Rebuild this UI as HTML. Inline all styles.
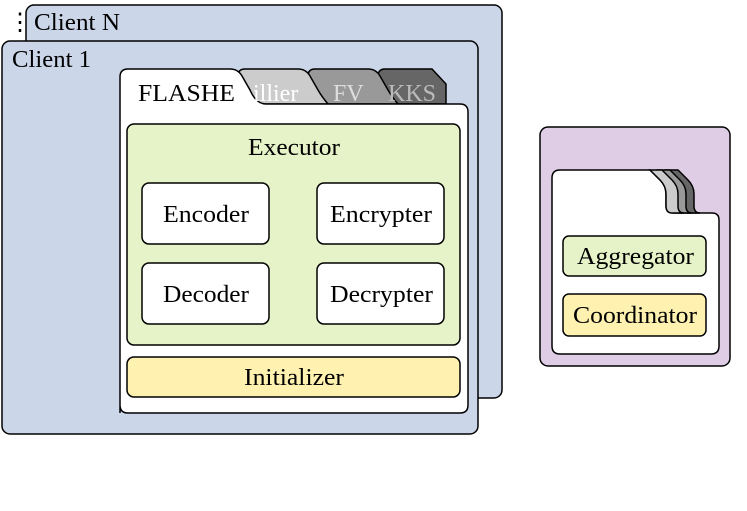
<!DOCTYPE html>
<html><head><style>body{margin:0;background:#fff}svg{display:block}text{font-family:"Liberation Serif","Times New Roman",serif;font-size:24px}</style></head><body>
<svg width="747" height="511" viewBox="0 0 747 511" font-family="Liberation Serif, serif">
<g stroke="#000" stroke-width="1.5">
<rect x="26" y="5" width="476" height="393" rx="8" fill="#cbd6e8"/>
<rect x="2" y="41" width="476" height="393" rx="8" fill="#cbd6e8"/>
<path d="M378 104 V76 Q378 69 385 69 H432 L446 84 V104 Z" fill="#666"/>
<path d="M308 104 V76 Q308 69 315 69 H368 Q376 69 380 76 L388 90 Q392 97 398 104 Z" fill="#999"/>
<path d="M238 104 V76 Q238 69 245 69 H298 Q306 69 310 76 L318 90 Q322 97 328 104 Z" fill="#ccc"/>
<path d="M120 413 V77 Q120 69 128 69 H230 Q238 69 242 76 L250 90 Q256 104 266 104 H460 Q468 104 468 112 V405 Q468 413 460 413 H128 Q120 413 120 405 Z" fill="#fff"/>
<rect x="127" y="124" width="333" height="221" rx="7" fill="#e6f3c8"/>
<rect x="142" y="183" width="127" height="61" rx="7" fill="#fff"/>
<rect x="317" y="183" width="127" height="61" rx="7" fill="#fff"/>
<rect x="142" y="263" width="127" height="61" rx="7" fill="#fff"/>
<rect x="317" y="263" width="127" height="61" rx="7" fill="#fff"/>
<rect x="127" y="357" width="333" height="40" rx="7" fill="#fff2b0"/>
<rect x="540" y="127" width="190" height="239" rx="8" fill="#dfcce5"/>
<path d="M552 346 V178 Q552 170 560 170 H650 L660 180 Q666 186 666 194 V206 Q666 213 674 213 H712 Q719 213 719 220 V346 Q719 354 711 354 H560 Q552 354 552 346 Z" fill="#fff"/>
<path d="M666 170 H678 L688 180 Q694 186 694 194 V206 Q694 213 700 213 H688 Q682 213 682 206 V194 Q682 186 676 180 Z" fill="#666"/>
<path d="M658 170 H670 L680 180 Q686 186 686 194 V206 Q686 213 692 213 H680 Q674 213 674 206 V194 Q674 186 668 180 Z" fill="#999"/>
<path d="M650 170 H662 L672 180 Q678 186 678 194 V206 Q678 213 684 213 H672 Q666 213 666 206 V194 Q666 186 660 180 Z" fill="#ccc"/>
<rect x="563" y="236" width="143" height="40" rx="6" fill="#e6f3c8"/>
<rect x="563" y="294" width="143" height="42" rx="6" fill="#fff2b0"/>
</g>
<text x="8" y="30" font-size="20">⋮</text>
<text x="34" y="30" textLength="86" lengthAdjust="spacingAndGlyphs">Client N</text>
<text x="12" y="67" textLength="79" lengthAdjust="spacingAndGlyphs">Client 1</text>
<text x="138" y="101" textLength="97" lengthAdjust="spacingAndGlyphs">FLASHE</text>
<text x="253" y="101" fill="#fff">illier</text>
<text x="333" y="101" fill="#ddd">FV</text>
<text x="388" y="101" fill="#bbb">KKS</text>
<text x="248" y="155" textLength="92" lengthAdjust="spacingAndGlyphs">Executor</text>
<text x="163" y="222" textLength="86" lengthAdjust="spacingAndGlyphs">Encoder</text>
<text x="330" y="222" textLength="102" lengthAdjust="spacingAndGlyphs">Encrypter</text>
<text x="163" y="302" textLength="86" lengthAdjust="spacingAndGlyphs">Decoder</text>
<text x="330" y="302" textLength="103" lengthAdjust="spacingAndGlyphs">Decrypter</text>
<text x="244" y="385" textLength="100" lengthAdjust="spacingAndGlyphs">Initializer</text>
<text x="577" y="264" textLength="117" lengthAdjust="spacingAndGlyphs">Aggregator</text>
<text x="573" y="323" textLength="124" lengthAdjust="spacingAndGlyphs">Coordinator</text>
</svg>
</body></html>
